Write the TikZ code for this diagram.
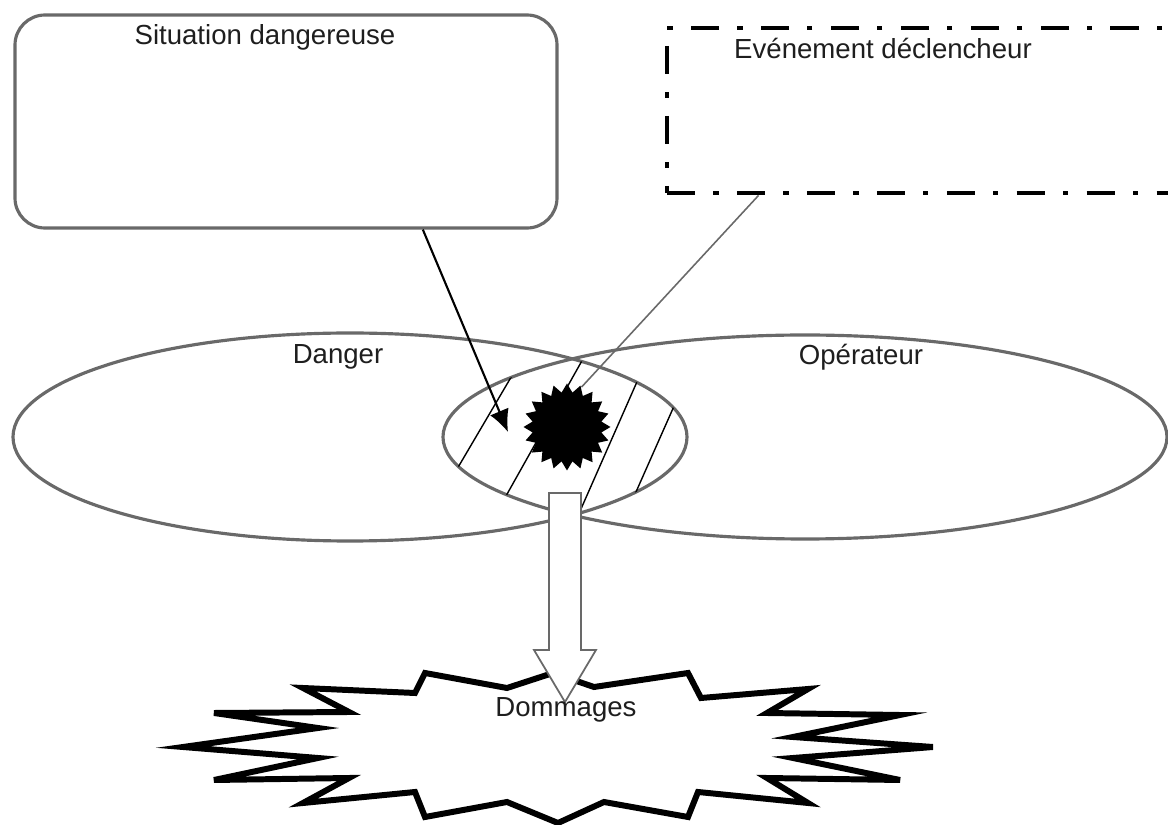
\documentclass[tikz,border=0pt]{standalone}
\usepackage{fontspec}
\setmainfont{Liberation Sans}
\usetikzlibrary{arrows.meta,shapes.geometric,calc}
\definecolor{edgegray}{RGB}{105,105,105}
\definecolor{txtgray}{RGB}{30,30,30}

\begin{document}
\begin{tikzpicture}[
    lbl/.style={text=txtgray,font=\fontsize{7.85}{9.4}\selectfont,inner sep=0pt},
    zone/.style={ellipse,draw=edgegray,line width=0.9pt,inner sep=0pt},
    hatch/.style={black,line width=0.4pt}
  ]
  \useasboundingbox (0,0) rectangle (11.68,8.25);
  % boxes
  \node[draw=edgegray,line width=0.9pt,rounded corners=0.3cm,
    minimum width=5.42cm,minimum height=2.13cm] (sit) at (2.86,7.035) {};
  \node[lbl] (sitlbl) at (2.65,7.88) {Situation dangereuse};
  \node[draw=black,line width=1.4pt,line cap=butt,
    dash pattern=on 8pt off 5.2pt on 1.5pt off 5.2pt,
    minimum width=5.03cm,minimum height=1.65cm] (evt) at (9.185,7.145) {};
  \node[lbl] (evtlbl) at (8.83,7.77) {Evénement déclencheur};
  % the two zones
  \node[zone,minimum width=6.74cm,minimum height=2.08cm] (danger) at (3.50,3.88) {};
  \node[zone,minimum width=7.24cm,minimum height=2.04cm] (oper) at (8.05,3.88) {};
  \node[lbl] (dangerlbl) at (3.38,4.68) {Danger};
  \node[lbl] (operlbl) at (8.61,4.68) {Opérateur};
  % hatched overlap
  \begin{scope}
    \clip (3.50,3.88) ellipse (3.37 and 1.04);
    \clip (8.05,3.88) ellipse (3.62 and 1.02);
    \draw[hatch] (4.40,3.27) -- (5.30,4.80);
    \draw[hatch] (4.97,3.13) -- (5.88,4.75);
    \draw[hatch] (5.77,3.07) -- (6.51,4.75);
    \draw[hatch] (6.28,3.15) -- (7.02,4.82);
  \end{scope}
  \node[star,star points=20,star point ratio=1.25,fill=black,inner sep=0pt,
    minimum size=0.87cm] (burst) at (5.67,3.98) {};
  % connectors
  \coordinate (hit) at (5.08,3.93);
  \draw[black,line width=0.6pt,-{Latex[length=6.3pt,width=5.7pt]}]
    ($(sit.south west)!0.751!(sit.south east)$) -- (hit);
  \draw[edgegray,line width=0.45pt]
    ($(evt.south west)!0.185!(evt.south east)$) -- (burst.70);
  % damage
  \draw[black,line width=1.7pt,fill=white,line join=miter]
    (1.83,0.78) -- (3.18,0.97) -- (2.14,1.12) -- (3.49,1.13) -- (3.03,1.37)
    -- (4.15,1.32) -- (4.25,1.52) -- (5.07,1.37) -- (5.53,1.52) -- (5.94,1.38)
    -- (6.88,1.52) -- (7.01,1.27) -- (8.08,1.36) -- (7.67,1.12) -- (9.00,1.10)
    -- (7.93,0.88) -- (9.33,0.78) -- (7.93,0.67) -- (9.00,0.45) -- (7.67,0.47)
    -- (8.08,0.22) -- (6.98,0.33) -- (6.88,0.08) -- (6.04,0.23) -- (5.58,0.02)
    -- (5.07,0.23) -- (4.25,0.08) -- (4.15,0.33) -- (3.03,0.22) -- (3.49,0.47)
    -- (2.14,0.45) -- (3.18,0.67) -- cycle;
  \draw[edgegray,line width=0.5pt,fill=white]
    (5.49,3.32) -- (5.81,3.32) -- (5.81,1.75) -- (5.96,1.75) -- (5.65,1.23)
    -- (5.34,1.75) -- (5.49,1.75) -- cycle;
  \node[lbl] (dmg) at (5.66,1.15) {Dommages};
\end{tikzpicture}
\end{document}
